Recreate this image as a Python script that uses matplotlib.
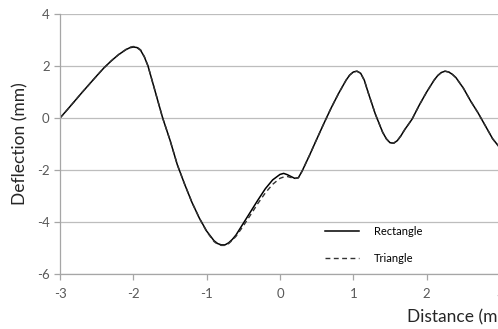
import matplotlib
matplotlib.use("Agg")
import matplotlib.pyplot as plt

plt.rcParams['font.family'] = ['Lato', 'DejaVu Sans']
plt.rcParams['axes.unicode_minus'] = False

# distance (m) and deflection (mm)
distance = [-3.0, -2.9, -2.8, -2.7, -2.6, -2.5, -2.4, -2.3, -2.2, -2.1, -2.05, -2.0, -1.95,
            -1.9, -1.85, -1.8, -1.7, -1.6, -1.5, -1.4, -1.3, -1.2, -1.1, -1.0, -0.9, -0.85,
            -0.8, -0.75, -0.7, -0.65, -0.6, -0.5, -0.4, -0.3, -0.2, -0.1, 0.0, 0.05, 0.1,
            0.2, 0.25, 0.3, 0.4, 0.5, 0.6, 0.7, 0.8, 0.9, 0.95, 1.0, 1.05, 1.1, 1.15, 1.2, 1.3,
            1.4, 1.45, 1.5, 1.55, 1.6, 1.65, 1.7, 1.8, 1.9, 2.0, 2.1, 2.15, 2.2, 2.25, 2.3, 2.35,
            2.4, 2.5, 2.6, 2.7, 2.8, 2.9, 3.0]
rectangle = [0.0, 0.32, 0.65, 0.98, 1.3, 1.62, 1.93, 2.2, 2.44, 2.63, 2.7, 2.73, 2.71,
             2.6, 2.35, 2.0, 1.0, 0.0, -0.85, -1.8, -2.55, -3.25, -3.85, -4.35, -4.72, -4.83,
             -4.88, -4.88, -4.8, -4.67, -4.5, -4.05, -3.6, -3.15, -2.72, -2.38, -2.17, -2.13, -2.18,
             -2.32, -2.3, -2.05, -1.45, -0.82, -0.2, 0.4, 0.95, 1.45, 1.65, 1.77, 1.8, 1.72, 1.45, 1.0, 0.15,
             -0.55, -0.8, -0.95, -0.97, -0.87, -0.68, -0.45, -0.05, 0.5, 1.0, 1.45, 1.63, 1.75, 1.8, 1.77, 1.68,
             1.55, 1.15, 0.65, 0.2, -0.3, -0.8, -1.15]
triangle = [0.0, 0.32, 0.65, 0.98, 1.3, 1.62, 1.93, 2.2, 2.44, 2.64, 2.72, 2.75, 2.73,
            2.62, 2.36, 2.0, 1.0, 0.0, -0.85, -1.8, -2.55, -3.25, -3.85, -4.37, -4.75, -4.86,
            -4.9, -4.9, -4.83, -4.7, -4.55, -4.15, -3.72, -3.28, -2.88, -2.55, -2.32, -2.27, -2.25,
            -2.33, -2.3, -2.05, -1.45, -0.82, -0.2, 0.4, 0.95, 1.45, 1.65, 1.77, 1.8, 1.72, 1.45, 1.0, 0.15,
            -0.55, -0.8, -0.95, -0.97, -0.87, -0.68, -0.45, -0.05, 0.5, 1.0, 1.45, 1.63, 1.75, 1.8, 1.77, 1.68,
            1.55, 1.15, 0.65, 0.2, -0.3, -0.8, -1.15]

xticks = [-3, -2, -1, 0, 1, 2, 3]
yticks = [-6, -4, -2, 0, 2, 4]

fig = plt.figure(figsize=(4.98, 3.29), dpi=100)
ax = fig.add_axes([60 / 498, 55 / 329, 440 / 498, 260 / 329])

ax.plot(distance, rectangle, color='black', lw=1.1, label='Rectangle', solid_joinstyle='round')
ax.plot(distance, triangle, color='#333333', lw=1.0, ls=(0, (3.5, 2.5)), label='Triangle')

ax.set_xlim(-3, 3)
ax.set_ylim(-6, 4)
ax.set_xticks(xticks)
ax.set_yticks(yticks)
ax.grid(axis='y', color='#bdbdbd', lw=0.9)
ax.set_axisbelow(True)

for s in ['top', 'right']:
    ax.spines[s].set_visible(False)
for s in ['left', 'bottom']:
    ax.spines[s].set_color('#a6a6a6')
    ax.spines[s].set_linewidth(0.9)
ax.tick_params(axis='both', colors='#a6a6a6', labelcolor='#595959', labelsize=9.5, length=4, width=0.9)
ax.tick_params(axis='x', pad=6)

ax.set_ylabel('Deflection (mm)', fontsize=12.5, color='#262626', labelpad=6)
fig.text(407 / 498, 12 / 329, 'Distance (m)', fontsize=12.5, color='#262626', ha='left', va='center')

ax.legend(loc='lower left', bbox_to_anchor=(0.58, 0.0), frameon=False, fontsize=8,
          handlelength=3.0, labelspacing=1.45, handletextpad=1.4)

fig.savefig('out.png', dpi=100)
